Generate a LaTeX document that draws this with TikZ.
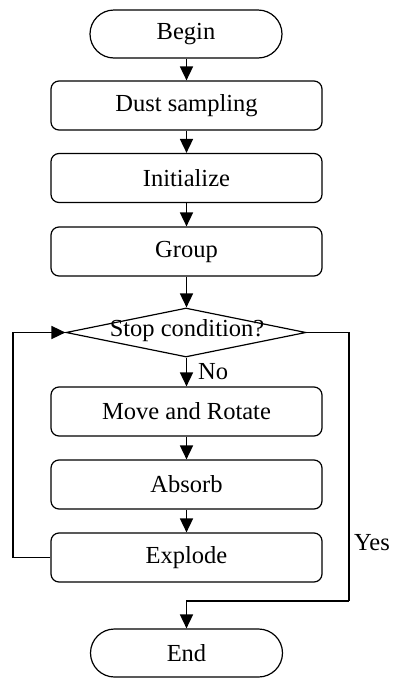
\documentclass[tikz,border=0pt]{standalone}
\usepackage{fontspec}
\setmainfont{Liberation Serif}
\usetikzlibrary{shapes.geometric,arrows.meta}
\begin{document}
\begin{tikzpicture}[x=1pt,y=1pt,
  proc/.style={draw, line width=1.2pt, rounded corners=8pt, minimum width=271pt, minimum height=49pt, inner sep=0pt, font=\fontsize{24.5}{28}\selectfont},
  term/.style={draw, line width=1.2pt, rounded corners=24pt, minimum width=192pt, minimum height=48pt, inner sep=0pt, font=\fontsize{24.5}{28}\selectfont},
  lbl/.style={inner sep=0pt, font=\fontsize{24.5}{28}\selectfont},
  conn/.style={line width=1.7pt, -{Triangle[width=13pt,length=14pt]}},
  line/.style={line width=1.7pt}]
\useasboundingbox (0,0) rectangle (393,-678);
\node[term] (begin) at (186,-34) {Begin};
\node[proc] (dust) at (186.5,-105.5) {Dust sampling};
\node[proc] (init) at (186.5,-178) {Initialize};
\node[proc] (group) at (186.5,-251.5) {Group};
\node[diamond, draw, line width=1.2pt, minimum width=240pt, minimum height=49pt, inner sep=0pt] (stop) at (186,-332.5) {};
\node[lbl] (stoptext) at (187,-331) {Stop condition?};
\node[proc] (move) at (186.5,-411.5) {Move and Rotate};
\node[proc] (absorb) at (186.5,-484.5) {Absorb};
\node[proc] (explode) at (186.5,-557.5) {Explode};
\node[term] (end) at (186.5,-653) {End};
\coordinate (lc) at (13,-557.5);
\coordinate (rc) at (349,-332.5);
\coordinate (rd) at (349,-601);
\draw[conn] (begin.south -| dust.north) -- (dust.north);
\draw[conn] (dust) -- (init);
\draw[conn] (init) -- (group);
\draw[conn] (group.south) -- (group.south |- stop.north);
\draw[conn] (group.south |- stop.south) -- (move.north);
\draw[conn] (move) -- (absorb);
\draw[conn] (absorb) -- (explode);
\draw[conn] (explode.west) -- (lc) |- (stop.west);
\draw[line] (stop.east) -- (rc) -- (rd);
\draw[conn] (rd) -| (end.north);
\node[lbl, anchor=west, fill=white, inner sep=1pt] (no) at (197,-372) {No};
\node[lbl] (yes) at (372,-543) {Yes};
\end{tikzpicture}
\end{document}
